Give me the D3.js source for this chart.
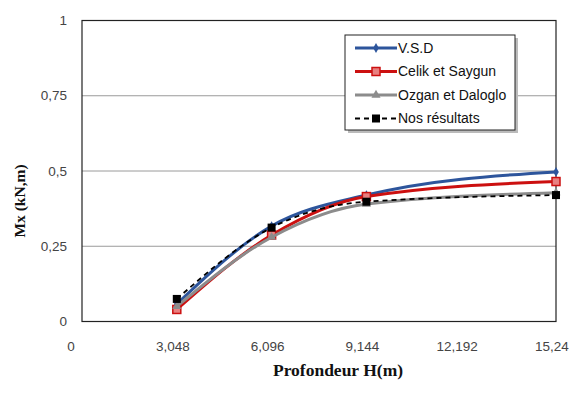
<!DOCTYPE html>
<html>
<head>
<meta charset="utf-8">
<script src="https://cdn.jsdelivr.net/npm/d3@7"></script>
<style>
  body { margin: 0; background: #fff; }
  svg { display: block; }
</style>
</head>
<body>
<svg id="chart" width="576" height="403"></svg>
<script>
// data
const depths = [3.048, 6.096, 9.144, 15.24];
const xTicks = [0, 3.048, 6.096, 9.144, 12.192, 15.24];
const xTickLabels = ["0", "3,048", "6,096", "9,144", "12,192", "15,24"];
const yTicks = [0, 0.25, 0.5, 0.75, 1];
const yTickLabels = ["0", "0,25", "0,5", "0,75", "1"];

const vsd = [0.058, 0.317, 0.420, 0.497];
const celik = [0.040, 0.287, 0.415, 0.465];
const ozgan = [0.050, 0.280, 0.390, 0.428];
const nos = [0.075, 0.312, 0.398, 0.420];

const series = [
  { name: "V.S.D", values: vsd, color: "#2D559C", width: 3, dash: null, marker: "diamond" },
  { name: "Celik et Saygun", values: celik, color: "#CC1010", width: 3, dash: null, marker: "square-open" },
  { name: "Ozgan et Daloglo", values: ozgan, color: "#8C8C8C", width: 3, dash: null, marker: "triangle" },
  { name: "Nos résultats", values: nos, color: "#000000", width: 1.8, dash: "5,4", marker: "square" }
];

const svg = d3.select("#chart");
const m = { left: 82, right: 556, top: 20.5, bottom: 321.5 };

const x = d3.scaleLinear().domain([0, 15.24]).range([m.left, m.right]);
const y = d3.scaleLinear().domain([0, 1]).range([m.bottom, m.top]);

// gridlines
svg.append("g")
  .selectAll("line")
  .data(yTicks.filter(d => d > 0 && d < 1))
  .enter().append("line")
  .attr("x1", m.left).attr("x2", m.right)
  .attr("y1", d => y(d)).attr("y2", d => y(d))
  .attr("stroke", "#9a9a9a").attr("stroke-width", 1);

// plot frame
svg.append("rect")
  .attr("x", m.left).attr("y", m.top)
  .attr("width", m.right - m.left).attr("height", m.bottom - m.top)
  .attr("fill", "none").attr("stroke", "#222").attr("stroke-width", 1.2);

// y tick labels
svg.append("g")
  .selectAll("text")
  .data(yTicks)
  .enter().append("text")
  .attr("x", 67).attr("y", d => y(d))
  .attr("dy", "0.35em")
  .attr("text-anchor", "end")
  .attr("font-family", "Liberation Sans, Arial, sans-serif")
  .attr("font-size", 13.5)
  .attr("fill", "#444")
  .text((d, i) => yTickLabels[i]);

// x tick labels
svg.append("g")
  .selectAll("text")
  .data(xTicks)
  .enter().append("text")
  .attr("x", (d, i) => x(d) - (i === 0 ? 11 : 4))
  .attr("y", 346)
  .attr("dy", "0.35em")
  .attr("text-anchor", "middle")
  .attr("font-family", "Liberation Sans, Arial, sans-serif")
  .attr("font-size", 13.5)
  .attr("fill", "#444")
  .text((d, i) => xTickLabels[i]);

// axis titles
svg.append("text")
  .attr("x", 338).attr("y", 370)
  .attr("dy", "0.35em")
  .attr("text-anchor", "middle")
  .attr("font-family", "Liberation Serif, Times New Roman, serif")
  .attr("font-weight", "bold")
  .attr("font-size", 17.5)
  .attr("fill", "#111")
  .text("Profondeur  H(m)");

svg.append("text")
  .attr("transform", "translate(20,201) rotate(-90)")
  .attr("dy", "0.35em")
  .attr("text-anchor", "middle")
  .attr("font-family", "Liberation Serif, Times New Roman, serif")
  .attr("font-weight", "bold")
  .attr("font-size", 15.5)
  .attr("fill", "#111")
  .text("Mx (kN,m)");

// lines
const line = d3.line()
  .x((d, i) => x(depths[i]))
  .y(d => y(d))
  .curve(d3.curveMonotoneX);

function drawMarker(g, type, color, cx, cy) {
  if (type === "diamond") {
    g.append("path")
      .attr("d", d3.symbol().type(d3.symbolDiamond).size(28)())
      .attr("transform", `translate(${cx},${cy})`)
      .attr("fill", color);
  } else if (type === "square-open") {
    g.append("rect")
      .attr("x", cx - 4).attr("y", cy - 4).attr("width", 8).attr("height", 8)
      .attr("fill", "#E88080").attr("stroke", color).attr("stroke-width", 1.5);
  } else if (type === "triangle") {
    g.append("path")
      .attr("d", d3.symbol().type(d3.symbolTriangle).size(36)())
      .attr("transform", `translate(${cx},${cy})`)
      .attr("fill", color);
  } else {
    g.append("rect")
      .attr("x", cx - 4).attr("y", cy - 4).attr("width", 8).attr("height", 8)
      .attr("fill", color);
  }
}

series.forEach(s => {
  const g = svg.append("g");
  g.append("path")
    .attr("d", line(s.values))
    .attr("fill", "none")
    .attr("stroke", s.color)
    .attr("stroke-width", s.width)
    .attr("stroke-dasharray", s.dash);
  s.values.forEach((v, i) => drawMarker(g, s.marker, s.color, x(depths[i]), y(v)));
});

// legend
const lg = svg.append("g").attr("transform", "translate(345,35)");
lg.append("rect")
  .attr("x", 3).attr("y", 3).attr("width", 170).attr("height", 95)
  .attr("fill", "#bbb");
lg.append("rect")
  .attr("x", 0).attr("y", 0).attr("width", 170).attr("height", 95)
  .attr("fill", "#fff").attr("stroke", "#222").attr("stroke-width", 1);

series.forEach((s, i) => {
  const ly = 13 + i * 23.5;
  const item = lg.append("g");
  item.append("line")
    .attr("x1", 10).attr("x2", 52)
    .attr("y1", ly).attr("y2", ly)
    .attr("stroke", s.color)
    .attr("stroke-width", s.width)
    .attr("stroke-dasharray", s.dash);
  drawMarker(item, s.marker, s.color, 31, ly);
  item.append("text")
    .attr("x", 53).attr("y", ly)
    .attr("dy", "0.35em")
    .attr("font-family", "Liberation Sans, Arial, sans-serif")
    .attr("font-size", 14)
    .attr("fill", "#111")
    .text(s.name);
});
</script>
</body>
</html>
